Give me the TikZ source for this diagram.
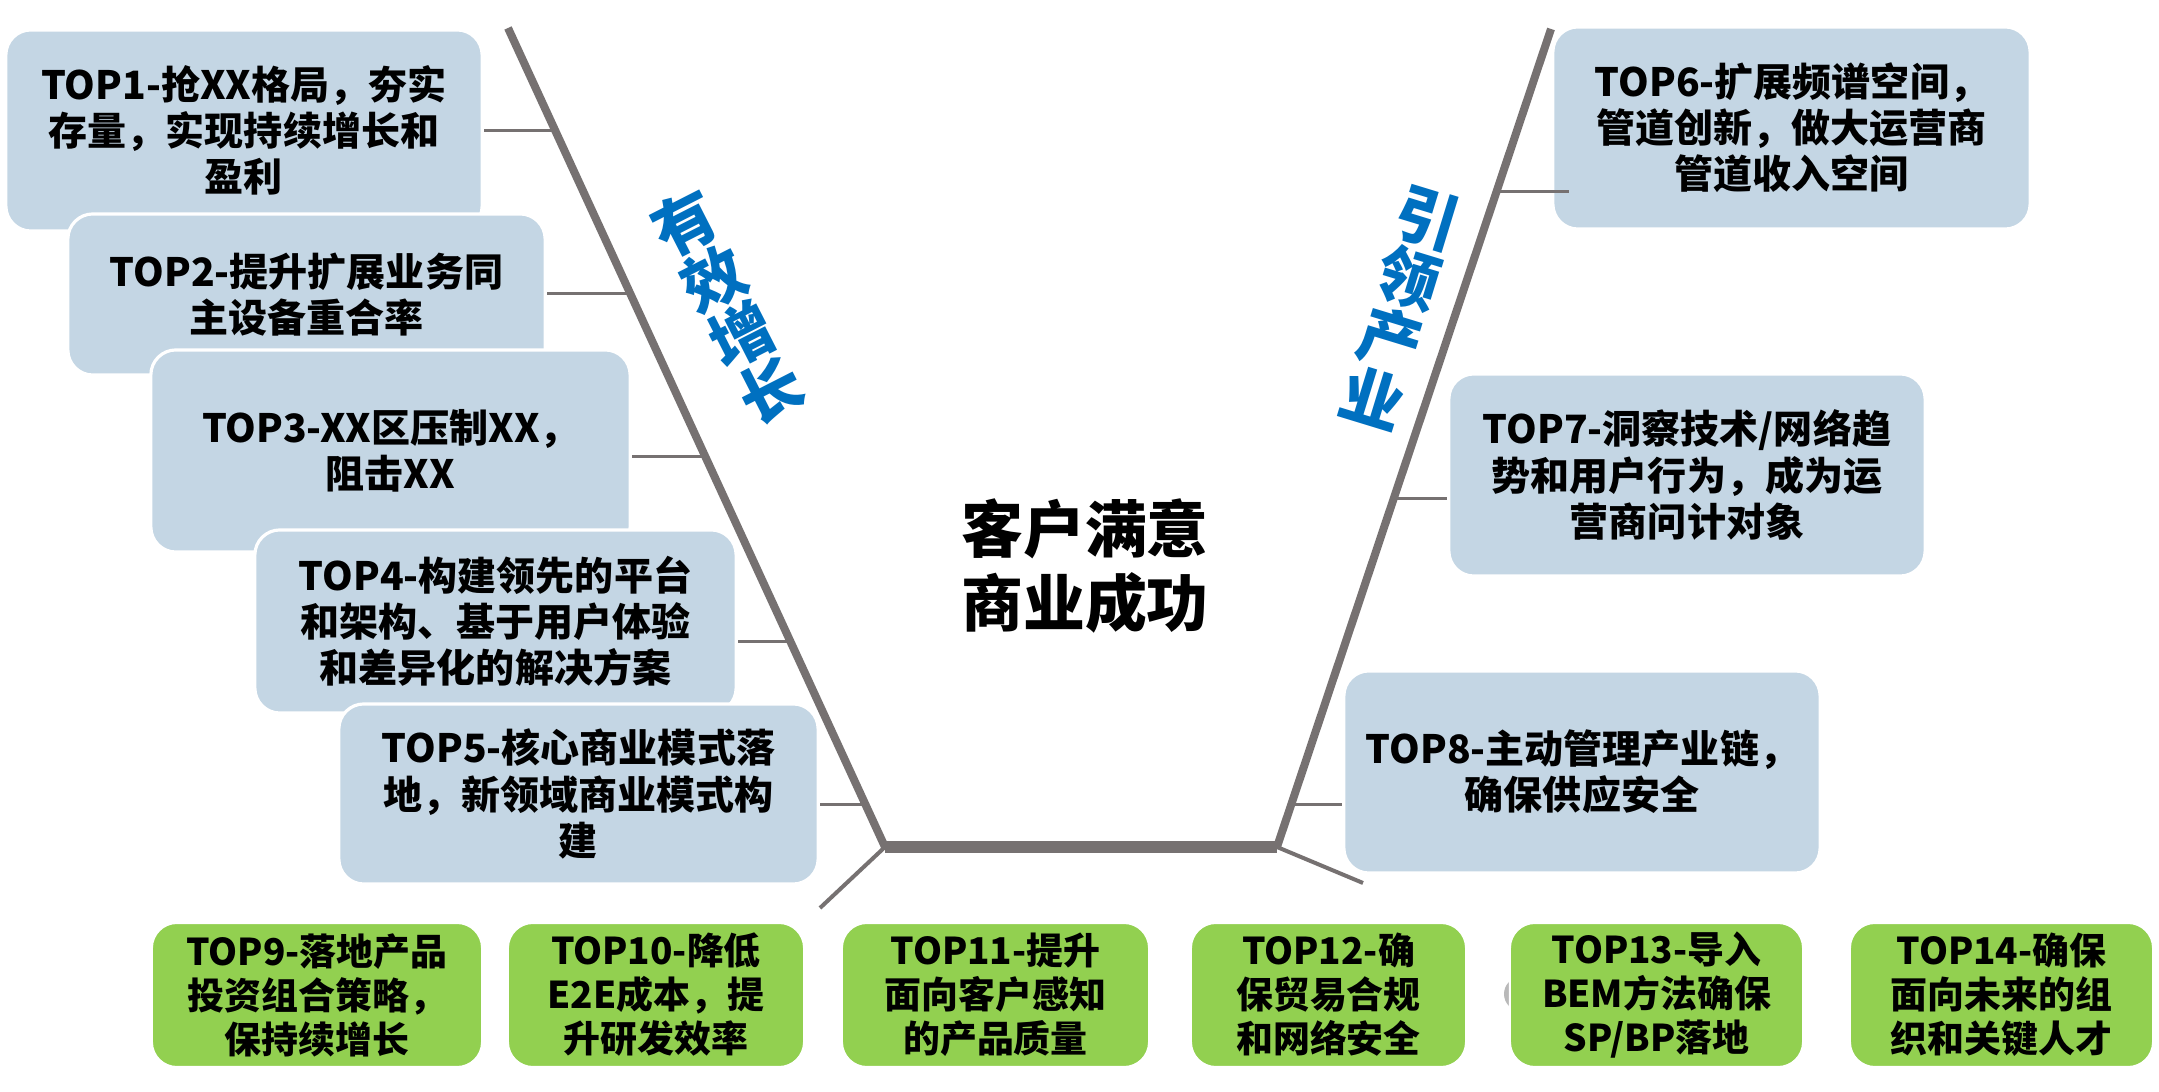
\documentclass[tikz,border=0pt]{standalone}
\usepackage{fontspec}
\setmainfont{Noto Sans CJK SC}
\definecolor{boxblue}{HTML}{C4D6E4}
\definecolor{boxgreen}{HTML}{92D050}
\definecolor{vgray}{HTML}{767171}
\definecolor{tblue}{HTML}{0070C0}
\begin{document}
\begin{tikzpicture}[x=0.01cm,y=-0.01cm,
  bbox/.style={rectangle, rounded corners=0.25cm, fill=boxblue, draw=white, line width=0.9pt,
    align=center, inner sep=0pt, font=\bfseries\fontsize{11.1pt}{13.1pt}\selectfont},
  gbox/.style={rectangle, rounded corners=0.25cm, fill=boxgreen, draw=white, line width=0.6pt,
    align=center, inner sep=0pt, minimum height=1.44cm, font=\bfseries\fontsize{10.5pt}{12.5pt}\selectfont},
  vline/.style={draw=vgray, line width=0.08cm},
  vbar/.style={draw=vgray, line width=0.115cm},
  conn/.style={draw=vgray, line width=0.03cm},
  thin/.style={draw=vgray, line width=0.04cm},
  vtext/.style={text=tblue, align=center, inner sep=0pt, font=\bfseries\fontsize{17.9pt}{17.9pt}\selectfont}
]
\useasboundingbox (0,0) rectangle (2159,1092);
\fill[white] (0,0) rectangle (2159,1092);

% left boxes
\node[bbox, minimum width=4.76cm, minimum height=2.01cm] (top1) at (244,130.5) {TOP1-抢XX格局，夯实\\存量，实现持续增长和\\盈利};
\node[bbox, minimum width=4.77cm, minimum height=1.61cm] (top2) at (306.5,294.5) {TOP2-提升扩展业务同\\主设备重合率};
\node[bbox, minimum width=4.79cm, minimum height=2.02cm] (top3) at (390.5,451) {TOP3-XX区压制XX，\\阻击XX};
\node[bbox, minimum width=4.81cm, minimum height=1.83cm] (top4) at (495.5,621.5) {TOP4-构建领先的平台\\和架构、基于用户体验\\和差异化的解决方案};
\node[bbox, minimum width=4.79cm, minimum height=1.80cm] (top5) at (578.5,794) {TOP5-核心商业模式落\\地，新领域商业模式构\\建};

% right boxes
\node[bbox, minimum width=4.77cm, minimum height=2.02cm] (top6) at (1791.5,128) {TOP6-扩展频谱空间，\\管道创新，做大运营商\\管道收入空间};
\node[bbox, minimum width=4.76cm, minimum height=2.02cm] (top7) at (1687,475) {TOP7-洞察技术/网络趋\\势和用户行为，成为运\\营商问计对象};
\node[bbox, minimum width=4.76cm, minimum height=2.02cm] (top8) at (1582,772) {TOP8-主动管理产业链，\\确保供应安全};

% small grey marks
\fill[gray!55] (1521,994) circle (17);
\node[circle, fill=gray!70, inner sep=0pt, minimum size=0.08cm] (dot) at (1685,1004) {};

% bottom green boxes
\node[gbox, minimum width=3.30cm] (top9) at (317,995) {TOP9-落地产品\\投资组合策略，\\保持续增长};
\node[gbox, minimum width=2.96cm] (top10) at (656,995) {TOP10-降低\\E2E成本，提\\升研发效率};
\node[gbox, minimum width=3.07cm] (top11) at (995.5,995) {TOP11-提升\\面向客户感知\\的产品质量};
\node[gbox, minimum width=2.75cm] (top12) at (1328.5,995) {TOP12-确\\保贸易合规\\和网络安全};
\node[gbox, minimum width=2.93cm] (top13) at (1656.5,995) {TOP13-导入\\BEM方法确保\\SP/BP落地};
\node[gbox, minimum width=3.03cm] (top14) at (2001.5,995) {TOP14-确保\\面向未来的组\\织和关键人才};

% V shape
\coordinate (ltop) at (508,28);
\coordinate (lbot) at (885,847);
\coordinate (rbot) at (1277,847);
\coordinate (rtop) at (1551,29);
\draw[vline] (ltop) -- (lbot);
\draw[vline] (rbot) -- (rtop);
\draw[vbar] (lbot) -- (rbot);

% thin diagonals
\coordinate (ldiag) at (820,908);
\coordinate (rdiag) at (1363,883);
\draw[thin] (lbot) -- (ldiag);
\draw[thin] (rbot) -- (rdiag);

% connectors
\coordinate (c1) at (555.4,131);
\coordinate (c2) at (630.4,294);
\coordinate (c3) at (705.5,457);
\coordinate (c4) at (790.6,642);
\coordinate (c5) at (865.7,805);
\coordinate (c6) at (1500,192);
\coordinate (c7) at (1393.6,499);
\coordinate (c8) at (1291,805);
\draw[conn] (c1) -- (top1.east |- c1);
\draw[conn] (c2) -- (top2.east |- c2);
\draw[conn] (c3) -- (top3.east |- c3);
\draw[conn] (c4) -- (top4.east |- c4);
\draw[conn] (c5) -- (top5.east |- c5);
\draw[conn] (c6) -- ([xshift=0.18cm]top6.west |- c6);
\draw[conn] (c7) -- (top7.west |- c7);
\draw[conn] (c8) -- (top8.west |- c8);

% rotated labels
\node[vtext, rotate=27] (grow) at (727.5,306.5) {有\\效\\增\\长};
\node[vtext, rotate=-17] (lead) at (1400,307.5) {引\\领\\产\\业};

% center text
\node[align=center, inner sep=0pt, font=\bfseries\fontsize{17.6pt}{20.8pt}\selectfont] (center) at (1085,566) {客户满意\\商业成功};
\end{tikzpicture}
\end{document}
